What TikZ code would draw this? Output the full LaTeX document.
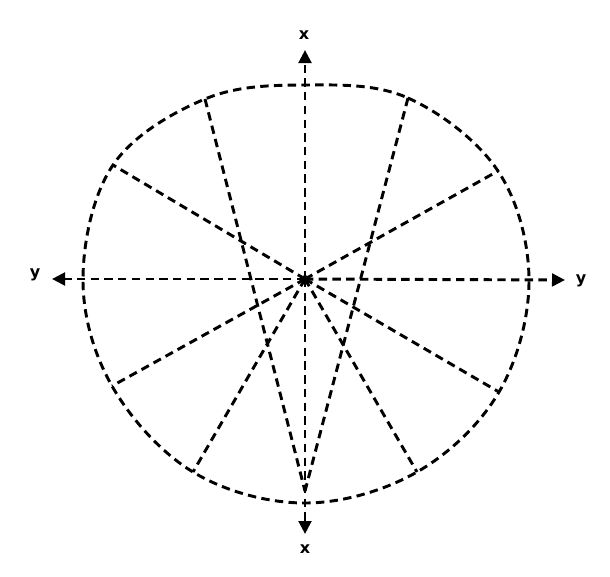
\documentclass[tikz,border=0pt]{standalone}
\usepackage{fontspec}
\setmainfont{DejaVu Sans}
\usetikzlibrary{arrows.meta}
\begin{document}
\begin{tikzpicture}[x=0.75pt,y=-0.75pt,
  dline/.style={line width=2.2pt,dash pattern=on 6.3pt off 4pt},
  axisline/.style={dline,-{Triangle[length=9.75pt,width=9.5pt]}},
  lbl/.style={font=\fontsize{12}{14}\selectfont\bfseries,inner sep=0pt}]
\useasboundingbox (0,0) rectangle (610,576);
% key points
\coordinate (O) at (305,279);
\coordinate (XT) at (305,50);
\coordinate (XB) at (305,534);
\coordinate (YL) at (52,279);
\coordinate (YR) at (565,280);
\coordinate (B) at (305,491);
\coordinate (P1) at (305,85);
\coordinate (P2) at (408,98);
\coordinate (P3) at (498,171);
\coordinate (P4) at (529,280);
\coordinate (P5) at (499,392);
\coordinate (P6) at (417,472);
\coordinate (P7) at (305,503);
\coordinate (P8) at (193,472);
\coordinate (P9) at (112,386);
\coordinate (P10) at (83,279);
\coordinate (P11) at (113,165);
\coordinate (P12) at (205,99);
% closed curve
\draw[dline] plot[smooth cycle,tension=0.6] coordinates {(305,85) (408,98) (498,171) (529,280) (499,392) (417,472) (305,503) (193,472) (112,386) (83,279) (113,165) (205,99)};
% spokes
\draw[dline] (O) -- (P3);
\draw[dline] (O) -- (P5);
\draw[dline] (O) -- (P6);
\draw[dline] (O) -- (P8);
\draw[dline] (O) -- (P9);
\draw[dline] (O) -- (P11);
\draw[dline] (P12) -- (B);
\draw[dline] (P2) -- (B);
% axes
\draw[axisline] (O) -- (XT);
\draw[axisline] (O) -- (XB);
\draw[axisline] (O) -- (YL);
\draw[axisline] (O) -- (YR);
\fill (O) circle (4);
% labels
\node[lbl] (lxt) at (304,35) {x};
\node[lbl] (lxb) at (305,549) {x};
\node[lbl] (lyl) at (35,275) {y};
\node[lbl] (lyr) at (581,281) {y};
\end{tikzpicture}
\end{document}
